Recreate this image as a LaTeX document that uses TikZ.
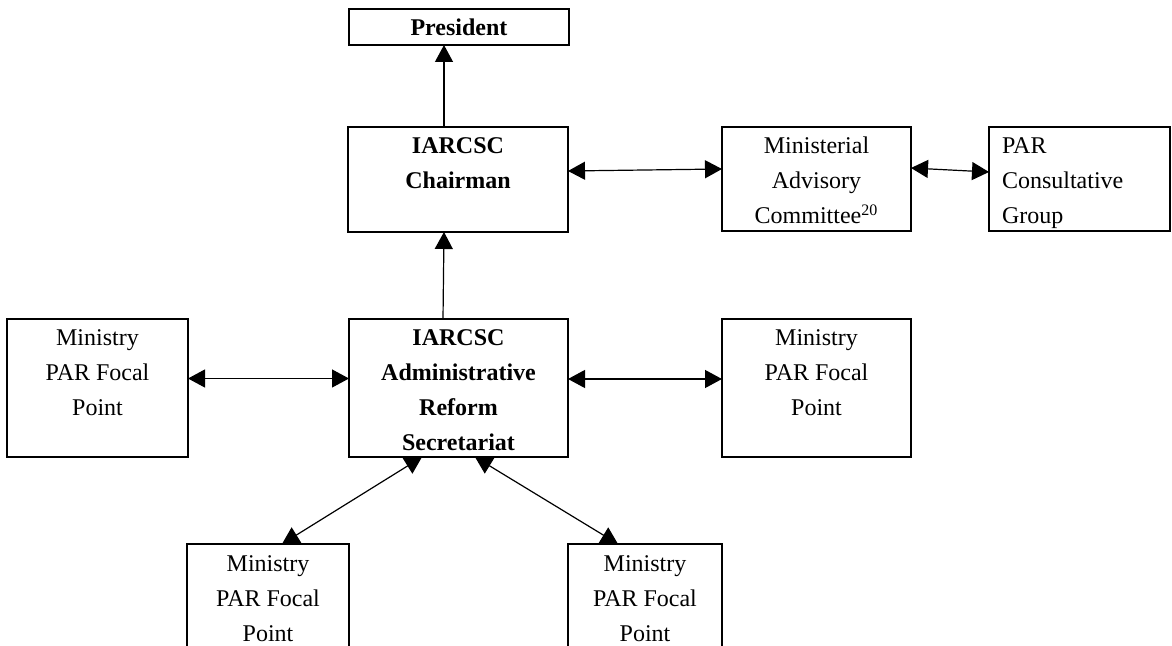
\documentclass[tikz,border=0pt]{standalone}
\usepackage{fontspec}
\setmainfont{Liberation Serif}
\usetikzlibrary{arrows.meta}
\newcommand{\ctext}[3]{\parbox[t][\dimexpr 0.5pt*#2\relax][t]{\dimexpr 0.5pt*#1\relax}{\centering\baselineskip=17.5pt\rule{0pt}{13.5pt}#3\par}}
\newcommand{\ltext}[3]{\parbox[t][\dimexpr 0.5pt*#2\relax][t]{\dimexpr 0.5pt*#1\relax}{\raggedright\leftskip=6.5pt\baselineskip=17.5pt\rule{0pt}{13.5pt}#3\par}}
\tikzset{
  box/.style={draw, line width=1pt, inner sep=0pt, outer sep=0pt, anchor=north west},
  onearr/.style={-{Triangle[length=8.5pt,width=9pt]}, line width=0.6pt},
  twoarr/.style={{Triangle[length=8.5pt,width=9pt]}-{Triangle[length=8.5pt,width=9pt]}, line width=0.6pt}
}
\begin{document}
\begin{tikzpicture}[x=0.5pt,y=-0.5pt,font=\fontsize{12pt}{17.5pt}\selectfont]
\useasboundingbox (0,0) rectangle (1172,646);
\clip (0,0) rectangle (1172,646);
\node[box, minimum width=110pt, minimum height=18pt, font=\fontsize{12pt}{17.5pt}\selectfont\bfseries] (pres) at (349,9) {President};
\node[box] (chair) at (348,127) {\ctext{220}{105}{\bfseries IARCSC\\Chairman}};
\node[box] (mac) at (722,127) {\ctext{189}{104}{Ministerial\\Advisory\\Committee\textsuperscript{20}}};
\node[box] (par) at (989,127) {\ltext{181}{104}{PAR\\Consultative\\Group}};
\node[box] (lmin) at (7,319) {\ctext{181}{138}{Ministry\\PAR Focal\\Point}};
\node[box] (sec) at (349,319) {\ctext{219}{138}{\bfseries IARCSC\\Administrative\\Reform\\Secretariat}};
\node[box] (rmin) at (722,319) {\ctext{189}{138}{Ministry\\PAR Focal\\Point}};
\node[box] (blmin) at (187,544) {\ctext{162}{130}{Ministry\\PAR Focal\\Point}};
\node[box] (brmin) at (568,544) {\ctext{154}{130}{Ministry\\PAR Focal\\Point}};
\draw[onearr] ([xshift=-7pt]chair.north) -- ([xshift=-7.5pt]pres.south);
\draw[onearr] ([xshift=-7.75pt]sec.north) -- ([xshift=-7pt]chair.south);
\draw[twoarr] ([yshift=4.25pt]chair.east) -- ([yshift=5pt]mac.west);
\draw[twoarr] ([yshift=5.5pt]mac.east) -- ([yshift=3.5pt]par.west);
\draw[twoarr] ([yshift=4.75pt]lmin.east) -- ([yshift=4.75pt]sec.west);
\draw[twoarr] ([yshift=4.5pt]sec.east) -- ([yshift=4.5pt]rmin.west);
\draw[twoarr] ([xshift=-18.25pt]sec.south) -- ([xshift=7pt]blmin.north);
\draw[twoarr] ([xshift=8.25pt]sec.south) -- ([xshift=-13.5pt]brmin.north);
\end{tikzpicture}
\end{document}
